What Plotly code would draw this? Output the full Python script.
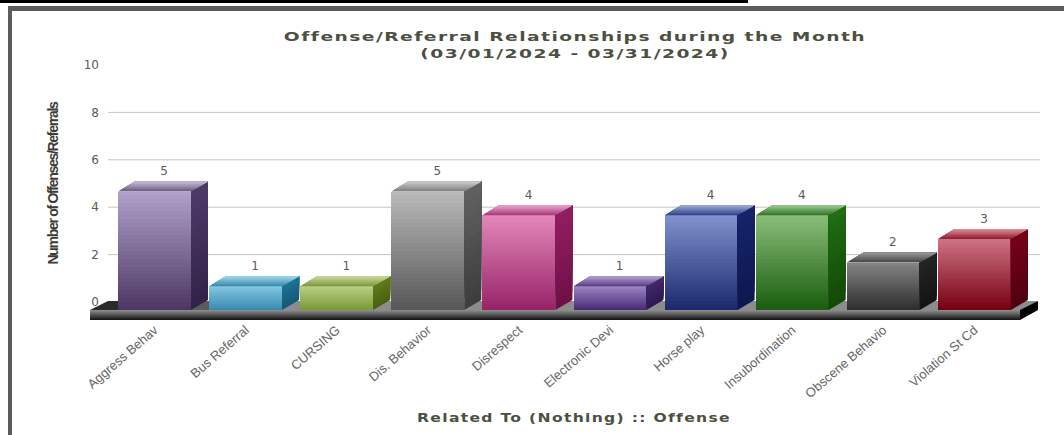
import plotly.graph_objects as go

categories = ["Aggress Behav", "Bus Referral", "CURSING", "Dis. Behavior", "Disrespect",
              "Electronic Devi", "Horse play", "Insubordination", "Obscene Behavio", "Violation St Cd"]
values = [5, 1, 1, 5, 4, 1, 4, 4, 2, 3]
front_light = ["#b3a4cc", "#84c8e2", "#b9d084", "#bcbcbc", "#e48abc", "#9c86c4", "#8494d0", "#8cc07c", "#868686", "#d07688"]
front_dark = ["#4d3864", "#3a8ab0", "#7a9a38", "#585858", "#982468", "#4a2a76", "#1a2a6e", "#1a5e0e", "#2e2e2e", "#760010"]
side_light = ["#4f3b69", "#1f7396", "#627d1e", "#636363", "#941f62", "#432a6e", "#16246a", "#217014", "#252525", "#7a0018"]
side_dark = ["#33234a", "#155a78", "#4a6010", "#3e3e3e", "#701048", "#2e1a52", "#0e1850", "#124a08", "#141414", "#500010"]
top_back = ["#cfc6de", "#aadcf0", "#d2e0a8", "#d4d4d4", "#eeb0d4", "#b8a8d8", "#a8b4e0", "#a8d09c", "#a0a0a0", "#e09aa8"]
top_front = ["#6f5c86", "#3c8cae", "#7f9a40", "#808080", "#ac3c7e", "#5e4288", "#35458a", "#34782a", "#484848", "#962032"]
y_ticks = [0, 2, 4, 6, 8, 10]
grid_values = [2, 4, 6, 8]

W, H = 1064, 435
L, R, T, B = 108, 24, 55, 113
Y_UNIT = 23.7
Y_ZERO = 302.0
X_STEP = 91.1
X_FIRST = 154.5
BASE_Y = 8 / Y_UNIT
DEPTH_Y = 10 / Y_UNIT
DEPTH_X = 17 / X_STEP
BAR_W = 73 / X_STEP


def hex_rgb(c):
    return [int(c[i:i + 2], 16) for i in (1, 3, 5)]


def mix(a, b, t):
    ca, cb = hex_rgb(a), hex_rgb(b)
    return "rgb(%d,%d,%d)" % tuple(round(ca[i] + (cb[i] - ca[i]) * t) for i in range(3))


def px(x):
    return (x - L) / (W - L - R)


def py(y):
    return 1 - (y - T) / (H - T - B)


def poly(pts, color):
    path = "M " + " L ".join(f"{px(x):.5f},{py(y):.5f}" for x, y in pts) + " Z"
    return dict(type="path", path=path, xref="paper", yref="paper", fillcolor=color,
                line=dict(width=0), layer="below")


def rect(x0, y0, x1, y1, color):
    return dict(type="rect", xref="paper", yref="paper", x0=px(x0), x1=px(x1), y0=py(y0), y1=py(y1),
                fillcolor=color, line=dict(width=0), layer="above")


fig = go.Figure()
idx = list(range(len(categories)))

SLICES = 30
for s in range(SLICES):
    t = s / SLICES
    fig.add_trace(go.Bar(
        x=idx,
        y=[v * (1 - t) for v in values],
        base=[-BASE_Y + v * t for v in values],
        width=BAR_W,
        marker=dict(color=[mix(front_dark[i], front_light[i], t) for i in idx], line=dict(width=0)),
        cliponaxis=False, hoverinfo="skip", showlegend=False))

for i, v in enumerate(values):
    xr = i + BAR_W / 2
    xl = i - BAR_W / 2
    y_top = v - BASE_Y
    n = 12
    for s in range(n):
        t = s / n
        yb = -BASE_Y + v * t
        fig.add_trace(go.Scatter(
            x=[xr, xr + DEPTH_X, xr + DEPTH_X, xr, xr],
            y=[yb, yb + DEPTH_Y, y_top + DEPTH_Y, y_top, yb],
            mode="lines", fill="toself", line=dict(width=0),
            fillcolor=mix(side_dark[i], side_light[i], t),
            cliponaxis=False, hoverinfo="skip", showlegend=False))
    n = 8
    for s in range(n):
        t = s / n
        f = DEPTH_Y * t
        g = DEPTH_X * t
        fig.add_trace(go.Scatter(
            x=[xl + g, xr + g, xr + DEPTH_X, xl + DEPTH_X, xl + g],
            y=[y_top + f, y_top + f, y_top + DEPTH_Y, y_top + DEPTH_Y, y_top + f],
            mode="lines", fill="toself", line=dict(width=0),
            fillcolor=mix(top_front[i], top_back[i], t),
            cliponaxis=False, hoverinfo="skip", showlegend=False))

fig.add_trace(go.Scatter(
    x=[i + 0.105 for i in idx],
    y=[v + 0.47 for v in values],
    text=[str(v) for v in values], mode="text", textposition="middle center",
    textfont=dict(family="DejaVu Sans", size=12, color="#5a5a5a"),
    cliponaxis=False, hoverinfo="skip", showlegend=False))

shapes = []
for g in grid_values:
    shapes.append(dict(type="line", xref="paper", yref="y", x0=0, x1=1, y0=g, y1=g,
                       line=dict(color="#c6c6b4", width=1), layer="below"))
n = 30
for s in range(n):
    t0 = s / n
    xa = 90 + 930 * t0
    shapes.append(poly([(xa, 310), (1020, 310), (1038, 301), (xa + 18, 301)],
                       mix("#2a2a2a", "#8c8c8c", min(1, t0 * 5))))
n = 10
for s in range(n):
    t = s / n
    y0 = 310 + 10 * t
    shapes.append(poly([(90, y0), (1020, y0), (1020, 320), (90, 320)], mix("#8a8a8a", "#0a0a0a", t)))
shapes.append(poly([(1020, 310), (1038, 301), (1038, 310), (1020, 320)], "#000000"))
shapes.append(rect(0, 0, 748, 3, "#000000"))
shapes.append(rect(8, 6, 1064, 11, "#5c5c5c"))
shapes.append(rect(8, 6, 12, 435, "#5c5c5c"))

fig.update_layout(
    width=W, height=H,
    margin=dict(l=L, r=R, t=T, b=B, autoexpand=False),
    paper_bgcolor="#ffffff", plot_bgcolor="#ffffff",
    bargap=0, barmode="overlay",
    showlegend=False,
    shapes=shapes,
    title=dict(text="Offense/Referral Relationships during the Month<br>(03/01/2024 - 03/31/2024)",
               x=575 / W, xanchor="center", y=1 - 41 / H, yanchor="top",
               font=dict(family="DejaVu Sans", size=13, color="#4b503f", weight="bold")),
    xaxis=dict(range=[(L - X_FIRST) / X_STEP, (W - R - X_FIRST) / X_STEP],
               tickmode="array", tickvals=idx, ticktext=categories, tickangle=-41,
               tickfont=dict(family="Liberation Sans", size=13, color="#666666"),
               showgrid=False, zeroline=False, showline=False, ticks="",
               ticklabelstandoff=-3, automargin=False,
               title=dict(text="Related To (Nothing) :: Offense",
                          font=dict(family="DejaVu Sans", size=12, color="#4b503f", weight="bold"))),
    yaxis=dict(range=[(Y_ZERO - (H - B)) / Y_UNIT, (Y_ZERO - T) / Y_UNIT],
               tickmode="array", tickvals=y_ticks, ticktext=[str(t) for t in y_ticks],
               tickfont=dict(family="DejaVu Sans", size=12, color="#5a5a5a"),
               showgrid=False, zeroline=False, showline=False, ticks="",
               ticklabelstandoff=8, automargin=False,
               title=dict(text="Number of Offenses/Referrals",
                          font=dict(family="Liberation Sans", size=14, color="#3c3c34", weight="bold"))),
)

post = """
document.body.style.margin='0';
var st=document.createElement('style');
st.textContent='.gtitle{letter-spacing:1px;transform-box:fill-box;transform-origin:center;transform:scaleX(1.44)}'
+'.xtitle{letter-spacing:1px;transform-box:fill-box;transform-origin:center;transform:translateY(-2px) scaleX(1.3)}'
+'.ytitle{letter-spacing:-1.3px;translate:-6px -5px}';
document.head.appendChild(st);
"""
fig.write_html("out.html", post_script=post, config=dict(displayModeBar=False))
